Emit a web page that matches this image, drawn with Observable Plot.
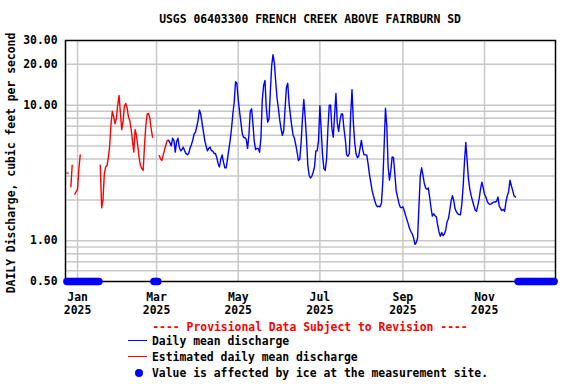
<!DOCTYPE html>
<html><head><meta charset="utf-8">
<script src="https://cdn.jsdelivr.net/npm/d3@7"></script>
<script src="https://cdn.jsdelivr.net/npm/@observablehq/plot@0.6"></script>
<style>
body{margin:0;background:#fff;font-family:"DejaVu Sans Mono",monospace;font-weight:bold;font-size:11.4px;color:#000}
#wrap{position:relative;width:576px;height:384px;overflow:hidden;background:#fff}
#title{position:absolute;left:65px;width:490px;top:12px;height:14px;line-height:14px;text-align:center;white-space:pre}
#chart{position:absolute;left:0;top:30px}
.row{position:absolute;height:14px;line-height:14px;white-space:pre}
.sw{position:absolute}
</style></head><body>
<div id="wrap">
  <div id="title"></div>
  <div id="chart"></div>
  <div id="prov" class="row" style="left:65px;width:490px;text-align:center;top:320px;color:#f00"></div>
  <div class="sw" style="left:128px;top:340px;width:19px;height:1.3px;background:#00f"></div>
  <div id="lg1" class="row" style="left:152px;top:334px"></div>
  <div class="sw" style="left:128px;top:356px;width:19px;height:1.3px;background:#f00"></div>
  <div id="lg2" class="row" style="left:152px;top:350px"></div>
  <div class="sw" style="left:135px;top:369px;width:8px;height:8px;border-radius:50%;background:#00f"></div>
  <div id="lg3" class="row" style="left:152px;top:366px"></div>
</div>
<script>
// ---- text ----
const titleText = "USGS 06403300 FRENCH CREEK ABOVE FAIRBURN SD";
const yLabel = "DAILY Discharge, cubic feet per second";
const provText = "---- Provisional Data Subject to Revision ----";
const legendLabels = ["Daily mean discharge", "Estimated daily mean discharge", "Value is affected by ice at the measurement site."];

// ---- axes ----
const xDomain = ["2024-12-23", "2025-12-24"];
const xTickDates = ["2025-01-01", "2025-03-01", "2025-05-01", "2025-07-01", "2025-09-01", "2025-11-01"];
const xTickLabels = ["Jan\n2025", "Mar\n2025", "May\n2025", "Jul\n2025", "Sep\n2025", "Nov\n2025"];
const yDomain = [0.5, 30];
const yTickValues = [0.5, 1, 10, 20, 30];
const yTickLabels = ["0.50", "1.00", "10.00", "20.00", "30.00"];
const yGridValues = [0.6, 0.7, 0.8, 0.9, 1, 2, 3, 4, 5, 6, 7, 8, 9, 10, 20];

// ---- estimated daily mean discharge (red), segments: start date + daily values ----
const estStarts = ["2024-12-24", "2024-12-27", "2024-12-30", "2025-01-18", "2025-03-03"];
const est1 = [3.15, 3.15];
const est2 = [2.5, 3.6];
const est3 = [2.2, 2.3, 2.4, 3.4, 4.3];
const est4 = [3.6, 1.75, 2.0, 3.1, 3.5, 3.6, 4.1, 5.0, 7.3, 9.0,
              8.2, 7.3, 8.0, 10.0, 11.8, 8.8, 6.6, 7.6, 9.8, 10.3,
              9.6, 8.2, 7.7, 6.7, 5.5, 4.5, 6.6, 6.0, 5.0, 4.1,
              3.6, 3.4, 3.3, 5.0, 7.1, 8.6, 8.7, 8.0, 6.7, 5.8];
const est5 = [4.25, 4.0, 3.9, 4.3, 4.7, 5.1, 5.5, 5.5];

// ---- daily mean discharge (blue) ----
const dailyStart = "2025-03-10";
const daily = [
  5.5,5.3,5.0,5.7,5.5,4.5,5.4,5.7,4.9,4.6,
  4.7,4.9,4.6,4.4,4.3,4.4,4.8,5.1,5.5,6.1,
  6.3,6.9,7.7,9.2,8.6,7.4,6.4,5.5,5.0,4.6,
  4.8,4.9,4.6,4.6,4.4,4.4,4.1,3.7,3.5,4.0,
  4.3,3.8,3.45,3.45,4.0,4.7,5.5,6.7,8.6,10.5,
  14.9,14.5,11.0,9.0,7.5,6.2,5.8,5.75,5.6,4.8,
  6.0,9.0,9.4,7.3,5.4,4.7,4.8,4.8,4.5,5.8,
  11.0,14.0,15.2,9.5,7.5,7.9,12.5,19.5,23.6,20.5,
  15.0,11.3,9.5,7.8,6.7,6.0,6.5,9.4,13.5,14.5,
  10.3,8.4,7.0,6.0,5.7,5.1,4.5,3.9,4.0,5.3,
  8.0,11.0,8.2,5.7,3.6,3.03,2.9,3.0,3.2,3.5,
  4.6,4.6,5.5,9.9,6.5,4.3,3.4,3.3,4.0,6.7,
  10.0,10.0,6.7,5.8,8.5,12.2,7.4,6.4,7.7,8.6,
  8.6,6.7,5.6,4.3,4.2,4.4,8.5,13.0,7.5,5.3,
  4.4,4.1,4.2,4.8,5.5,4.7,4.3,4.3,4.3,3.7,
  3.1,2.7,2.35,2.15,1.97,1.84,1.78,1.8,1.78,1.9,
  2.7,5.0,9.5,7.0,3.5,2.8,3.3,4.15,4.1,3.1,
  2.34,2.1,1.9,1.77,1.75,1.78,1.67,1.54,1.43,1.33,
  1.23,1.17,1.12,1.05,0.94,0.97,1.05,1.8,3.0,3.45,
  3.05,2.65,2.45,2.4,2.45,2.1,1.75,1.52,1.58,1.53,
  1.5,1.3,1.16,1.08,1.15,1.09,1.12,1.2,1.38,1.45,
  1.67,1.95,2.15,1.98,1.72,1.63,1.58,1.56,1.55,1.85,
  2.5,3.8,5.3,3.9,2.85,2.4,2.15,1.97,1.82,1.68,
  1.65,1.82,2.05,2.4,2.7,2.45,2.2,2.1,1.95,1.88,
  1.85,1.87,1.9,1.93,1.93,1.95,2.1,1.8,1.72,1.67,
  1.7,1.65,1.93,2.15,2.3,2.8,2.55,2.35,2.15,2.1
];

// ---- ice-affected days (first, last) ----
const iceRanges = [["2024-12-24", "2025-01-17"], ["2025-02-27", "2025-03-02"], ["2025-11-26", "2025-12-23"]];

// ---- build tables ----
const toRows = (start, vals, seg) => vals.map((v, i) => ({date: d3.utcDay.offset(new Date(start), i), value: v, seg}));
const blueRows = toRows(dailyStart, daily, 0);
const redRows = [est1, est2, est3, est4, est5].flatMap((vals, k) => toRows(estStarts[k], vals, k));
const iceRows = iceRanges.flatMap(([a, b]) =>
  d3.utcDay.range(new Date(a), d3.utcDay.offset(new Date(b), 1)).map(date => ({date, value: yDomain[0]})));

document.getElementById("title").textContent = titleText;
document.getElementById("prov").textContent = provText;
document.getElementById("lg1").textContent = legendLabels[0];
document.getElementById("lg2").textContent = legendLabels[1];
document.getElementById("lg3").textContent = legendLabels[2];

const tickDates = xTickDates.map(d => new Date(d));
const gridColor = "#c8c8c8";
const yFmt = d => yTickLabels[yTickValues.indexOf(+d)] ?? "";
const xFmt = d => xTickLabels[tickDates.findIndex(t => +t === +d)] ?? "";

const chart = Plot.plot({
  width: 576, height: 288,
  marginLeft: 65, marginRight: 21, marginTop: 10, marginBottom: 37,
  style: {fontFamily: "'DejaVu Sans Mono', monospace", fontWeight: "bold", fontSize: "11.4px", color: "#000", background: "#fff", overflow: "visible"},
  x: {type: "utc", domain: xDomain.map(d => new Date(d))},
  y: {type: "log", domain: yDomain},
  marks: [
    Plot.gridY(yGridValues, {stroke: gridColor, strokeOpacity: 1, strokeWidth: 1.5}),
    Plot.gridX(tickDates, {stroke: gridColor, strokeOpacity: 1, strokeWidth: 1.5}),
    Plot.line(redRows, {x: "date", y: "value", z: "seg", stroke: "#ff0000", strokeWidth: 1.4}),
    Plot.line(blueRows, {x: "date", y: "value", stroke: "#0000ff", strokeWidth: 1.4}),
    Plot.frame({stroke: "#000", strokeWidth: 1.5}),
    Plot.dot(iceRows, {x: "date", y: "value", r: 3.7, fill: "#0000ff", stroke: "none"}),
    Plot.axisY({ticks: yTickValues, tickSize: 0, tickPadding: 8, tickFormat: yFmt, label: null}),
    Plot.axisX({ticks: tickDates, tickSize: 0, tickPadding: 10, lineHeight: 1.14, tickFormat: xFmt, label: null}),
    Plot.text([yLabel], {frameAnchor: "left", textAnchor: "middle", rotate: -90, dx: -54, dy: 2, text: d => d, fill: "#000"})
  ]
});
document.getElementById("chart").appendChild(chart);
</script>
</body></html>
